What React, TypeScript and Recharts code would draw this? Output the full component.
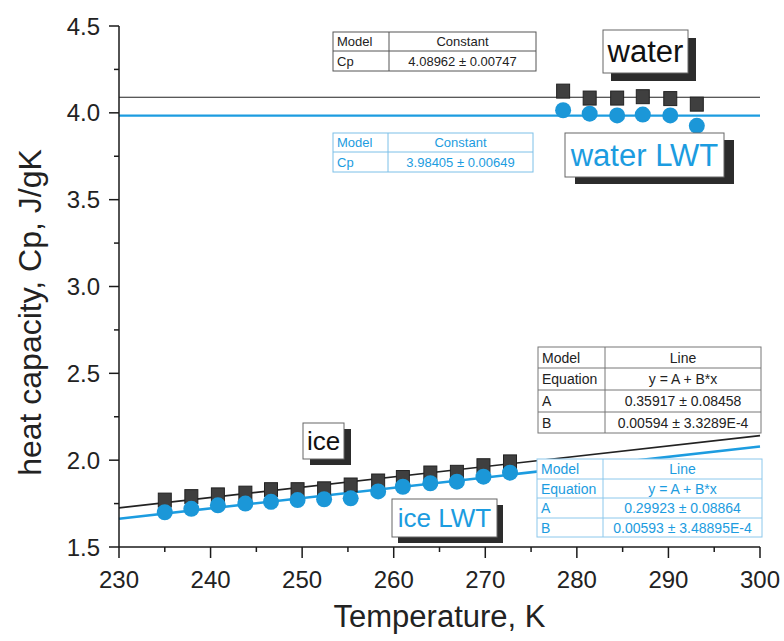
import React from 'react';
import { ComposedChart, XAxis, YAxis, Scatter, ReferenceLine, Label } from 'recharts';

// ---- data ----
const iceT = [235.0, 237.9, 240.8, 243.8, 246.6, 249.5, 252.4, 255.3, 258.3, 261.0, 264.0, 266.9, 269.8, 272.7];
const iceCp = [1.77, 1.79, 1.80, 1.81, 1.83, 1.83, 1.835, 1.857, 1.88, 1.90, 1.926, 1.93, 1.968, 1.99];
const iceLwtCp = [1.70, 1.72, 1.74, 1.75, 1.76, 1.77, 1.775, 1.78, 1.82, 1.847, 1.867, 1.876, 1.905, 1.928];

const waterT = [278.5, 281.4, 284.4, 287.2, 290.2, 293.1];
const waterCp = [4.125, 4.085, 4.085, 4.093, 4.082, 4.05];
const waterLwtCp = [4.015, 3.995, 3.985, 3.99, 3.985, 3.925];

// fit results shown in the tables
const waterConst = 4.08962;
const waterLwtConst = 3.98405;
const iceA = 0.35917;
const iceB = 0.00594;
const iceLwtA = 0.29923;
const iceLwtB = 0.00593;
const fitRange = [230, 300];

const xTicks = [230, 235, 240, 245, 250, 255, 260, 265, 270, 275, 280, 285, 290, 295, 300];
const yTicks = [1.5, 1.75, 2.0, 2.25, 2.5, 2.75, 3.0, 3.25, 3.5, 3.75, 4.0, 4.25, 4.5];

const waterTable = [['Model', 'Constant'], ['Cp', '4.08962 ± 0.00747']];
const waterLwtTable = [['Model', 'Constant'], ['Cp', '3.98405 ± 0.00649']];
const iceTable = [['Model', 'Line'], ['Equation', 'y = A + B*x'], ['A', '0.35917 ± 0.08458'], ['B', '0.00594 ± 3.3289E-4']];
const iceLwtTable = [['Model', 'Line'], ['Equation', 'y = A + B*x'], ['A', '0.29923 ± 0.08864'], ['B', '0.00593 ± 3.48895E-4']];

const BLUE = '#1c9ce0';
const DARK = '#1a1a1a';
const FONT = "Arial, 'Liberation Sans', Helvetica, sans-serif";

const toPts = (xs: number[], ys: number[]) => xs.map((x, i) => ({ x, y: ys[i] }));
const iceData = toPts(iceT, iceCp);
const iceLwtData = toPts(iceT, iceLwtCp);
const waterData = toPts(waterT, waterCp);
const waterLwtData = toPts(waterT, waterLwtCp);

const XTick = (props: any) => {
  const { x, y, payload } = props;
  const v = payload.value;
  const major = v % 10 === 0;
  return (
    <g>
      <line x1={x} x2={x} y1={y} y2={y + (major ? 11 : 5)} stroke={DARK} strokeWidth={1.5} />
      {major && (
        <text x={x} y={y + 41} textAnchor="middle" fontSize={24} fontFamily={FONT} fill="#222">
          {v}
        </text>
      )}
    </g>
  );
};

const YTick = (props: any) => {
  const { x, y, payload } = props;
  const v = payload.value;
  const major = Math.abs(v * 2 - Math.round(v * 2)) < 1e-6;
  return (
    <g>
      <line x1={x - (major ? 10 : 5)} x2={x} y1={y} y2={y} stroke={DARK} strokeWidth={1.5} />
      {major && (
        <text x={x - 19} y={y} dy="0.36em" textAnchor="end" fontSize={24} fontFamily={FONT} fill="#222">
          {v.toFixed(1)}
        </text>
      )}
    </g>
  );
};

const Square = (p: any) => (
  <rect x={p.cx - 6.5} y={p.cy - 7} width={13} height={14} fill="#3f3f3f" stroke="#222" strokeWidth={1} />
);
const Dot = (p: any) => <circle cx={p.cx} cy={p.cy} r={8} fill="#1b97d8" />;

function LabelBox({ x, y, w, h, sx, sy, text, color, fs }: any) {
  return (
    <g>
      <rect x={x + sx} y={y + sy} width={w} height={h} fill="#2c2c2c" />
      <rect x={x} y={y} width={w} height={h} fill="#fff" stroke="#666" strokeWidth={1} />
      <text x={x + w / 2} y={y + h / 2} dy="0.35em" textAnchor="middle" fontSize={fs} fontFamily={FONT} fill={color}>
        {text}
      </text>
    </g>
  );
}

function Table({ x, right, split, ys, rows, color, border, fs }: any) {
  return (
    <g>
      <rect x={x} y={ys[0]} width={right - x} height={ys[ys.length - 1] - ys[0]} fill="#fff" stroke={border} strokeWidth={1} />
      <line x1={split} x2={split} y1={ys[0]} y2={ys[ys.length - 1]} stroke={border} strokeWidth={1} />
      {ys.slice(1, -1).map((yy: number, i: number) => (
        <line key={i} x1={x} x2={right} y1={yy} y2={yy} stroke={border} strokeWidth={1} />
      ))}
      {rows.map((r: string[], i: number) => {
        const cy = (ys[i] + ys[i + 1]) / 2;
        return (
          <g key={i}>
            <text x={x + 4} y={cy} dy="0.36em" fontSize={fs} fontFamily={FONT} fill={color}>
              {r[0]}
            </text>
            <text x={(split + right) / 2} y={cy} dy="0.36em" textAnchor="middle" fontSize={fs} fontFamily={FONT} fill={color}>
              {r[1]}
            </text>
          </g>
        );
      })}
    </g>
  );
}

export default function App() {
  return (
    <div style={{ position: 'absolute', left: 0, top: 0, width: 784, height: 641, background: '#fff' }}>
      <ComposedChart width={784} height={641} margin={{ top: 26, right: 24, bottom: 0, left: 0 }}>
        <XAxis
          dataKey="x"
          type="number"
          domain={[230, 300]}
          ticks={xTicks}
          interval={0}
          allowDataOverflow
          height={94}
          tickSize={0}
          tickMargin={0}
          tick={<XTick />}
          axisLine={{ stroke: DARK, strokeWidth: 1.5 }}
          tickLine={false}
        >
          <Label
            content={(p: any) => {
              const vb = p.viewBox || { x: 119, y: 547, width: 641 };
              return (
                <text x={vb.x + vb.width / 2} y={vb.y + 80} textAnchor="middle" fontSize={31} fontFamily={FONT} fill="#222">
                  Temperature, K
                </text>
              );
            }}
          />
        </XAxis>
        <YAxis
          dataKey="y"
          type="number"
          domain={[1.5, 4.5]}
          ticks={yTicks}
          interval={0}
          allowDataOverflow
          width={119}
          tickSize={0}
          tickMargin={0}
          tick={<YTick />}
          axisLine={{ stroke: DARK, strokeWidth: 1.5 }}
          tickLine={false}
        >
          <Label
            content={(p: any) => {
              const vb = p.viewBox || { x: 0, y: 26, height: 521 };
              const cx = vb.x + 30;
              const cy = vb.y + vb.height / 2 + 26;
              return (
                <text
                  x={cx}
                  y={cy}
                  dy="0.35em"
                  textAnchor="middle"
                  fontSize={32}
                  fontFamily={FONT}
                  fill="#222"
                  transform={`rotate(-90 ${cx} ${cy})`}
                >
                  heat capacity, Cp, J/gK
                </text>
              );
            }}
          />
        </YAxis>
        <ReferenceLine y={waterConst} stroke="#222" strokeWidth={1.2} />
        <ReferenceLine y={waterLwtConst} stroke={BLUE} strokeWidth={2.2} />
        <ReferenceLine
          segment={[
            { x: fitRange[0], y: iceA + iceB * fitRange[0] },
            { x: fitRange[1], y: iceA + iceB * fitRange[1] },
          ]}
          stroke="#222"
          strokeWidth={1.6}
        />
        <ReferenceLine
          segment={[
            { x: fitRange[0], y: iceLwtA + iceLwtB * fitRange[0] },
            { x: fitRange[1], y: iceLwtA + iceLwtB * fitRange[1] },
          ]}
          stroke={BLUE}
          strokeWidth={2.6}
        />
        <Scatter data={iceData} shape={Square} isAnimationActive={false} />
        <Scatter data={waterData} shape={Square} isAnimationActive={false} />
        <Scatter data={iceLwtData} shape={Dot} isAnimationActive={false} />
        <Scatter data={waterLwtData} shape={Dot} isAnimationActive={false} />
      </ComposedChart>
      <svg width={784} height={641} style={{ position: 'absolute', left: 0, top: 0, pointerEvents: 'none' }}>
        <Table x={333} right={536} split={389} ys={[32, 51, 71]} rows={waterTable} color="#222" border="#555" fs={13} />
        <Table x={333} right={533} split={388} ys={[133, 152, 172]} rows={waterLwtTable} color={BLUE} border="#7cc0e8" fs={13} />
        <Table x={538} right={761} split={605} ys={[347, 368, 390, 412, 433]} rows={iceTable} color="#222" border="#777" fs={14} />
        <Table x={537} right={762} split={603} ys={[459, 479, 498, 518, 537]} rows={iceLwtTable} color={BLUE} border="#8cc8ec" fs={14} />
        <LabelBox x={603} y={30} w={85} h={43} sx={8} sy={8} text="water" color="#111" fs={31} />
        <LabelBox x={565} y={133} w={159} h={44} sx={10} sy={7} text="water LWT" color={BLUE} fs={31} />
        <LabelBox x={303} y={423} w={41} h={36} sx={7} sy={6} text="ice" color="#111" fs={26} />
        <LabelBox x={392} y={499} w={105} h={38} sx={6} sy={6} text="ice LWT" color={BLUE} fs={26} />
      </svg>
    </div>
  );
}
